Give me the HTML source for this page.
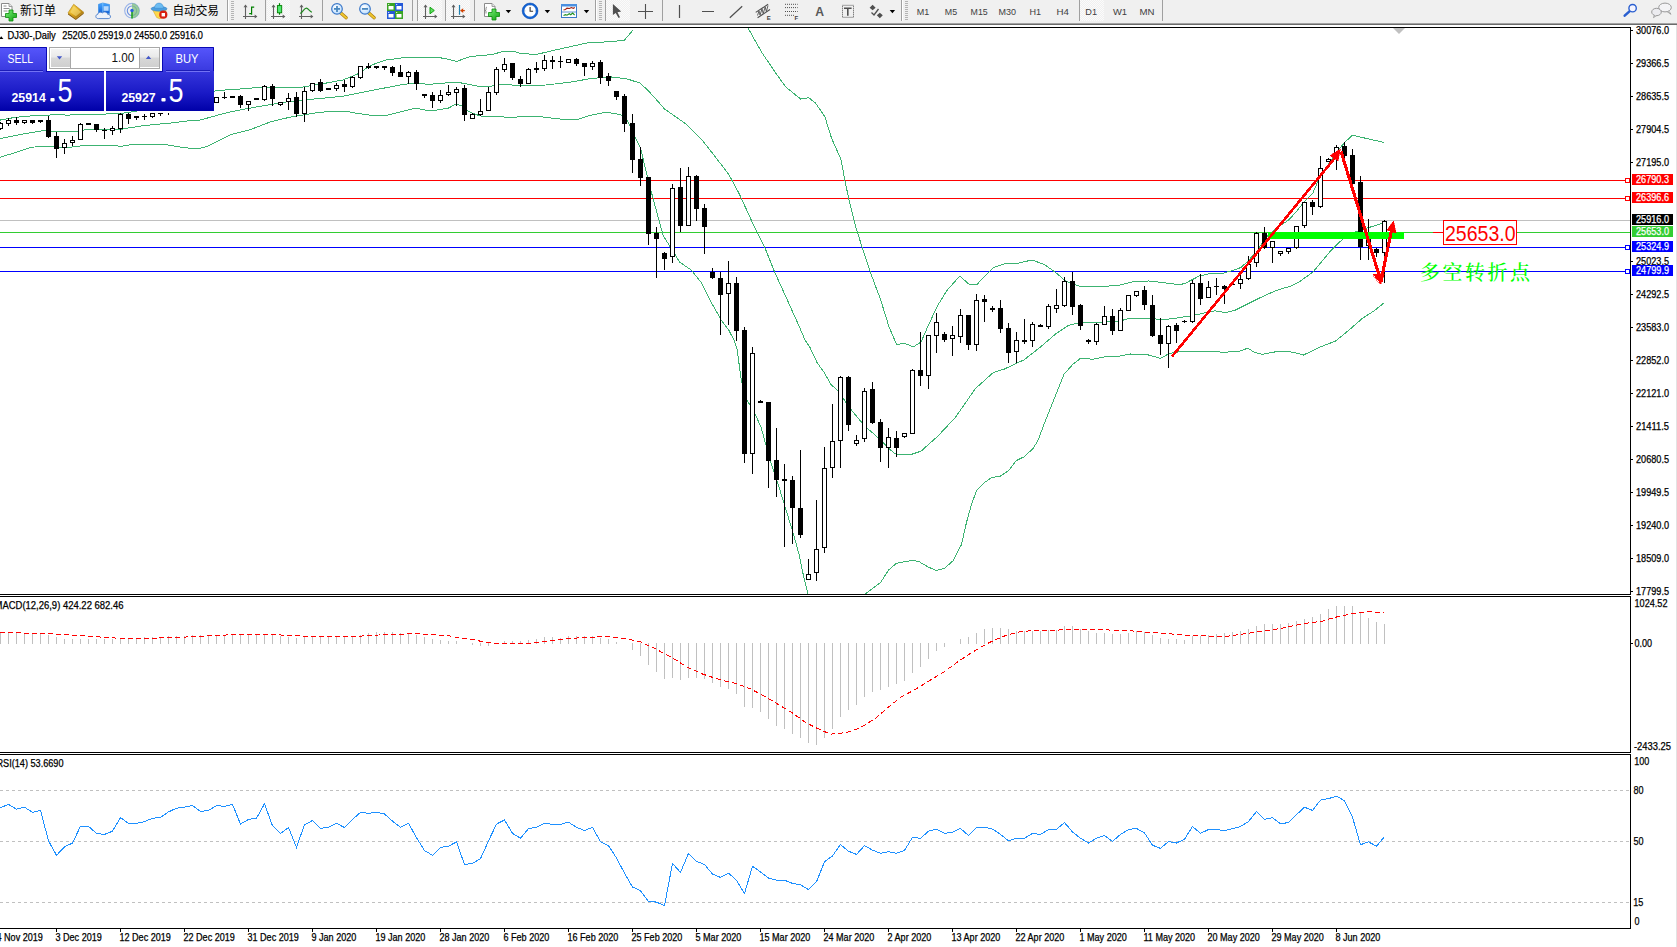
<!DOCTYPE html>
<html><head><meta charset="utf-8"><title>DJ30-,Daily</title>
<style>
html,body{margin:0;padding:0;background:#fff;}
body{width:1677px;height:947px;position:relative;overflow:hidden;font-family:"Liberation Sans","Noto Sans CJK SC",sans-serif;}
#tb{position:absolute;left:0;top:0;width:1677px;height:23px;background:#f0f0f0;}
#tbb{position:absolute;left:0;top:23px;width:1677px;height:2px;background:linear-gradient(#a3a3a3 50%,#6b6b6b 50%);}
#rb{position:absolute;left:1676px;top:25px;width:1px;height:922px;background:#e3e3e3;}
</style></head><body>
<div id="tb"></div><div id="tbb"></div><div id="rb"></div>
<svg width="1677" height="947" viewBox="0 0 1677 947" style="position:absolute;left:0;top:0" shape-rendering="crispEdges">
<defs><clipPath id="cm"><rect x="0" y="28" width="1630" height="566"/></clipPath></defs>
<g fill="#000">
<rect x="0" y="27" width="1631" height="1"/>
<rect x="0" y="594" width="1631" height="1"/>
<rect x="0" y="596" width="1631" height="1"/>
<rect x="0" y="752" width="1631" height="1"/>
<rect x="0" y="754" width="1631" height="1"/>
<rect x="0" y="928" width="1631" height="1"/>
<rect x="1630" y="27" width="1" height="568"/><rect x="1630" y="596" width="1" height="157"/><rect x="1630" y="754" width="1" height="175"/>
</g>
<rect x="0" y="180" width="1630" height="1" fill="#ff0000"/>
<rect x="0" y="198" width="1630" height="1" fill="#ff0000"/>
<rect x="0" y="220" width="1630" height="1" fill="#c0c0c0"/>
<rect x="0" y="232" width="1630" height="1" fill="#32cd32"/>
<rect x="0" y="247" width="1630" height="1" fill="#0000ff"/>
<rect x="0" y="271" width="1630" height="1" fill="#0000ff"/>
<g clip-path="url(#cm)" fill="none" stroke="#3cb371" stroke-width="1">
<polyline points="0.0,120.1 14.3,117.5 35.8,115.4 57.2,114.8 68.7,115.1 77.0,114.3 100.0,114.1 118.7,113.8 135.0,111.5 150.0,108.5 190.0,98.0 216.0,90.8 217.0,90.5 236.0,89.3 257.0,87.6 280.0,87.9 300.0,87.6 321.6,83.9 343.0,80.0 357.0,74.3 371.7,65.0 386.0,60.0 404.6,57.6 423.0,57.2 437.0,57.2 448.6,59.3 456.5,61.5 470.0,56.5 491.5,54.6 504.4,51.2 514.4,51.5 520.0,53.2 536.0,54.6 548.8,51.5 563.0,48.3 588.8,42.6 611.7,41.7 624.6,40.0 633.0,30.0"/>
<polyline points="748.0,28.0 761.5,52.0 775.0,72.0 785.8,87.0 800.6,99.0 808.7,97.7 815.4,103.0 824.8,116.5 831.5,138.0 841.0,159.6 845.0,181.0 849.0,200.0 855.8,227.0 862.5,248.5 869.9,271.0 876.2,288.0 880.0,297.7 888.9,326.5 896.6,344.7 904.4,343.2 913.3,346.9 921.0,342.0 928.8,324.3 937.7,305.5 946.5,291.0 959.8,276.0 968.7,284.0 976.5,285.0 984.2,276.6 993.1,267.8 1004.2,264.0 1017.5,263.3 1031.9,260.0 1044.1,264.4 1055.2,272.2 1066.3,281.5 1079.6,286.2 1101.8,286.6 1120.0,285.0 1135.2,281.3 1149.0,281.0 1161.2,282.4 1176.6,284.4 1184.2,283.9 1191.9,279.8 1199.5,275.9 1210.2,273.6 1222.5,273.3 1230.1,271.3 1240.9,267.5 1248.5,260.6 1256.2,251.4 1262.3,243.0 1268.4,234.6 1280.5,225.5 1288.6,220.1 1296.7,211.2 1303.9,202.2 1312.8,193.2 1318.2,180.6 1323.6,171.7 1330.8,160.9 1338.0,150.1 1345.1,142.1 1352.3,135.2 1366.7,138.5 1383.7,142.4"/>
<polyline points="0.0,138.6 21.5,134.3 47.2,130.0 52.9,131.5 77.3,131.5 85.8,129.6 100.1,129.3 118.7,130.0 124.5,128.6 143.0,125.7 171.7,122.9 190.0,120.6 200.0,120.1 228.6,112.2 257.0,106.8 286.0,102.0 314.5,99.0 343.0,96.2 371.7,90.5 400.0,85.0 414.6,83.0 428.6,84.4 451.5,82.5 461.5,83.0 477.0,86.0 488.7,86.5 501.5,84.4 520.0,85.5 546.0,85.0 570.0,82.2 591.7,78.4 611.7,77.0 627.4,79.0 640.3,83.2 649.0,91.5 660.0,103.7 664.5,108.9 686.0,124.0 702.5,140.5 716.4,158.3 729.0,174.8 739.2,193.8 752.0,221.6 764.6,247.0 774.7,272.3 787.4,300.2 798.8,325.5 805.0,340.0 809.8,347.2 817.0,362.4 824.0,372.3 831.3,384.9 838.5,391.2 845.7,402.0 852.8,411.8 861.8,422.6 869.0,429.8 878.0,437.6 888.7,448.3 895.0,453.7 900.0,454.6 911.0,454.5 921.0,451.2 937.7,436.3 955.4,417.4 975.4,388.6 993.1,372.7 1004.2,369.1 1024.1,359.8 1039.7,347.6 1055.2,334.3 1068.5,325.4 1079.6,322.8 1101.8,322.1 1120.0,321.0 1130.6,318.0 1150.5,318.0 1161.2,320.0 1176.6,318.0 1191.9,315.7 1207.2,312.4 1214.8,310.8 1225.6,312.7 1234.7,310.4 1245.5,305.0 1260.8,297.4 1276.1,290.5 1291.4,285.9 1300.0,281.3 1312.8,272.2 1321.8,261.4 1330.8,250.7 1339.8,241.7 1346.9,236.3 1355.9,231.8 1366.7,228.2 1375.7,225.4 1383.7,222.8"/>
<polyline points="0.0,157.2 14.3,152.9 31.5,147.2 47.2,146.2 67.2,147.6 85.8,145.3 115.9,145.3 120.2,146.5 133.0,144.3 164.5,144.3 178.8,146.9 190.3,148.3 200.0,148.3 207.0,146.6 231.5,134.4 250.0,129.7 271.5,121.5 293.0,116.5 318.7,112.5 336.0,111.0 347.4,111.5 357.4,113.4 371.7,115.4 386.0,115.4 400.0,112.0 416.0,108.0 424.6,110.0 433.0,110.8 448.6,108.0 455.8,104.0 461.5,105.8 468.6,111.5 480.0,116.0 500.0,116.5 508.7,117.5 526.0,116.5 538.7,116.5 563.0,119.4 577.4,119.4 591.7,115.0 606.0,112.3 620.0,114.4 627.4,120.8 634.6,136.0 640.3,147.3 644.6,165.0 651.8,193.8 663.2,235.6 673.4,252.0 679.7,262.2 691.0,269.8 701.2,282.5 711.4,302.7 721.5,320.5 729.0,330.6 734.0,340.0 737.0,349.0 741.5,381.3 747.0,400.0 755.0,413.6 761.3,428.0 764.9,441.2 772.0,466.3 779.2,487.8 786.4,511.2 793.6,534.5 799.0,554.2 803.5,575.8 808.0,594.0"/>
<polyline points="865.0,594.0 880.3,582.8 888.7,570.0 896.3,563.3 912.4,560.3 919.0,561.6 927.6,566.7 936.0,570.4 944.5,568.4 953.0,560.8 961.4,544.7 966.4,522.8 971.5,504.2 976.6,490.7 985.0,482.2 991.8,477.5 1000.2,476.3 1008.7,470.4 1016.3,460.6 1023.9,456.9 1033.2,448.4 1038.2,440.0 1044.1,424.1 1053.0,401.9 1064.0,374.2 1073.0,364.2 1080.7,358.2 1092.9,359.3 1106.2,356.5 1120.0,356.0 1130.6,354.0 1145.9,354.3 1160.5,358.3 1168.9,353.7 1182.7,351.0 1191.9,351.7 1207.2,351.0 1222.5,352.2 1237.8,351.7 1247.8,348.2 1254.6,352.5 1262.3,354.3 1276.1,351.7 1289.9,351.7 1300.0,354.0 1303.5,355.0 1320.4,346.9 1335.6,341.0 1349.1,330.0 1362.6,318.2 1374.5,310.6 1383.8,303.0"/>
</g>
<g clip-path="url(#cm)">
<path fill="#000" d="M0 122v8h1v-8zM8 118v8h1v-8zM16 117v8h1v-8zM24 120v4h1v-4zM32 120v4h1v-4zM40 120v3h1v-3zM48 116v22h1v-22zM56 132v26h1v-26zM64 139v15h1v-15zM72 136v10h1v-10zM80 123v17h1v-17zM88 123v2h1v-2zM96 124v8h1v-8zM104 128v11h1v-11zM112 126v9h1v-9zM120 113v20h1v-20zM128 113v11h1v-11zM136 116v4h1v-4zM144 114v6h1v-6zM152 113v5h1v-5zM160 113v3h1v-3zM168 113v2h1v-2zM216 97v6h1v-6zM224 92v7h1v-7zM232 96v2h1v-2zM240 95v13h1v-13zM248 101v10h1v-10zM256 98v2h1v-2zM264 85v16h1v-16zM272 84v22h1v-22zM280 102v4h1v-4zM288 93v17h1v-17zM296 92v25h1v-25zM304 87v35h1v-35zM312 83v9h1v-9zM320 79v13h1v-13zM328 88v2h1v-2zM336 83v8h1v-8zM344 80v12h1v-12zM352 76v12h1v-12zM360 66v13h1v-13zM368 63v6h1v-6zM376 66v3h1v-3zM384 66v4h1v-4zM392 66v10h1v-10zM400 65v12h1v-12zM408 71v13h1v-13zM416 70v20h1v-20zM424 94v4h1v-4zM432 92v16h1v-16zM440 90v13h1v-13zM448 85v11h1v-11zM456 87v19h1v-19zM464 85v36h1v-36zM472 113v6h1v-6zM480 99v17h1v-17zM488 87v24h1v-24zM496 67v28h1v-28zM504 58v14h1v-14zM512 63v17h1v-17zM520 76v11h1v-11zM528 68v16h1v-16zM536 62v11h1v-11zM544 55v16h1v-16zM552 56v13h1v-13zM560 56v12h1v-12zM568 59v4h1v-4zM576 58v8h1v-8zM584 63v13h1v-13zM592 61v9h1v-9zM600 60v24h1v-24zM608 73v13h1v-13zM616 91v9h1v-9zM624 94v38h1v-38zM632 114v59h1v-59zM640 147v39h1v-39zM648 177v68h1v-68zM656 227v51h1v-51zM664 252v18h1v-18zM672 184v79h1v-79zM680 168v64h1v-64zM688 167v59h1v-59zM696 175v46h1v-46zM704 204v50h1v-50zM712 268v11h1v-11zM720 272v63h1v-63zM728 261v64h1v-64zM736 277v64h1v-64zM744 327v136h1v-136zM752 347v127h1v-127zM760 400v3h1v-3zM768 402v86h1v-86zM776 428v69h1v-69zM784 464v83h1v-83zM792 476v68h1v-68zM800 450v88h1v-88zM808 559v21h1v-21zM816 500v81h1v-81zM824 447v106h1v-106zM832 404v74h1v-74zM840 376v92h1v-92zM848 376v55h1v-55zM856 435v11h1v-11zM864 388v54h1v-54zM872 382v42h1v-42zM880 419v43h1v-43zM888 428v40h1v-40zM896 431v26h1v-26zM904 433v5h1v-5zM912 369v65h1v-65zM920 332v54h1v-54zM928 335v54h1v-54zM936 313v40h1v-40zM944 332v10h1v-10zM952 326v30h1v-30zM960 309v34h1v-34zM968 315v35h1v-35zM976 294v57h1v-57zM984 295v27h1v-27zM992 306v6h1v-6zM1000 300v33h1v-33zM1008 323v40h1v-40zM1016 332v31h1v-31zM1024 319v25h1v-25zM1032 322v25h1v-25zM1040 324v3h1v-3zM1048 304v25h1v-25zM1056 289v24h1v-24zM1064 277v30h1v-30zM1072 272v43h1v-43zM1080 304v26h1v-26zM1088 339v5h1v-5zM1096 323v22h1v-22zM1104 306v19h1v-19zM1112 309v26h1v-26zM1120 308v23h1v-23zM1128 295v16h1v-16zM1136 291v6h1v-6zM1144 286v24h1v-24zM1152 295v42h1v-42zM1160 318v37h1v-37zM1168 325v43h1v-43zM1176 323v20h1v-20zM1184 320v3h1v-3zM1192 280v43h1v-43zM1200 274v31h1v-31zM1208 281v17h1v-17zM1216 278v17h1v-17zM1224 285v19h1v-19zM1232 284v1h1v-1zM1240 275v14h1v-14zM1248 256v24h1v-24zM1256 232v35h1v-35zM1264 227v22h1v-22zM1272 241v22h1v-22zM1280 251v5h1v-5zM1288 248v6h1v-6zM1296 226v23h1v-23zM1304 202v26h1v-26zM1312 200v15h1v-15zM1320 156v52h1v-52zM1328 158v4h1v-4zM1336 145v25h1v-25zM1344 142v16h1v-16zM1352 149v35h1v-35zM1360 176v84h1v-84zM1368 219v41h1v-41zM1376 248v9h1v-9zM1384 220v63h1v-63z"/>
<path fill="#000" d="M-2 123h5v6h-5zM6 120h5v4h-5zM14 120h5v3h-5zM22 120h5v3h-5zM30 120h5v3h-5zM38 120h5v2h-5zM46 120h5v17h-5zM54 136h5v13h-5zM62 143h5v5h-5zM70 140h5v3h-5zM78 124h5v16h-5zM86 123h5v2h-5zM94 124h5v6h-5zM102 130h5v1h-5zM110 128h5v3h-5zM118 114h5v15h-5zM126 114h5v5h-5zM134 116h5v2h-5zM142 116h5v1h-5zM150 113h5v4h-5zM158 113h5v1h-5zM214 97h5v6h-5zM222 97h5v1h-5zM230 96h5v2h-5zM238 96h5v9h-5zM246 101h5v4h-5zM254 98h5v2h-5zM262 86h5v14h-5zM270 86h5v13h-5zM278 102h5v3h-5zM286 98h5v4h-5zM294 97h5v17h-5zM302 91h5v23h-5zM310 83h5v8h-5zM318 82h5v9h-5zM326 88h5v2h-5zM334 85h5v4h-5zM342 84h5v3h-5zM350 77h5v10h-5zM358 66h5v12h-5zM366 66h5v2h-5zM374 66h5v2h-5zM382 66h5v2h-5zM390 67h5v6h-5zM398 72h5v5h-5zM406 72h5v5h-5zM414 72h5v12h-5zM422 94h5v2h-5zM430 95h5v6h-5zM438 95h5v6h-5zM446 92h5v3h-5zM454 89h5v4h-5zM462 88h5v27h-5zM470 114h5v5h-5zM478 111h5v4h-5zM486 92h5v19h-5zM494 69h5v24h-5zM502 64h5v6h-5zM510 63h5v15h-5zM518 79h5v5h-5zM526 69h5v15h-5zM534 68h5v2h-5zM542 60h5v9h-5zM550 60h5v2h-5zM558 61h5v1h-5zM566 59h5v4h-5zM574 59h5v5h-5zM582 63h5v4h-5zM590 63h5v4h-5zM598 62h5v16h-5zM606 76h5v5h-5zM614 91h5v6h-5zM622 96h5v28h-5zM630 123h5v37h-5zM638 159h5v19h-5zM646 177h5v57h-5zM654 233h5v6h-5zM662 253h5v6h-5zM670 188h5v69h-5zM678 187h5v39h-5zM686 176h5v50h-5zM694 176h5v33h-5zM702 208h5v19h-5zM710 272h5v6h-5zM718 278h5v17h-5zM726 283h5v11h-5zM734 283h5v48h-5zM742 330h5v124h-5zM750 353h5v101h-5zM758 401h5v2h-5zM766 402h5v59h-5zM774 460h5v20h-5zM782 479h5v2h-5zM790 480h5v28h-5zM798 508h5v27h-5zM806 574h5v6h-5zM814 549h5v24h-5zM822 468h5v80h-5zM830 441h5v27h-5zM838 377h5v64h-5zM846 377h5v48h-5zM854 440h5v4h-5zM862 391h5v48h-5zM870 389h5v34h-5zM878 422h5v26h-5zM886 437h5v11h-5zM894 438h5v10h-5zM902 433h5v4h-5zM910 370h5v64h-5zM918 370h5v6h-5zM926 335h5v41h-5zM934 322h5v14h-5zM942 334h5v6h-5zM950 335h5v4h-5zM958 315h5v22h-5zM966 315h5v30h-5zM974 300h5v45h-5zM982 299h5v3h-5zM990 308h5v2h-5zM998 308h5v21h-5zM1006 328h5v25h-5zM1014 340h5v12h-5zM1022 340h5v2h-5zM1030 324h5v17h-5zM1038 325h5v2h-5zM1046 306h5v21h-5zM1054 305h5v4h-5zM1062 281h5v25h-5zM1070 281h5v26h-5zM1078 305h5v21h-5zM1086 340h5v2h-5zM1094 324h5v18h-5zM1102 316h5v9h-5zM1110 316h5v15h-5zM1118 310h5v21h-5zM1126 295h5v16h-5zM1134 291h5v5h-5zM1142 290h5v15h-5zM1150 305h5v31h-5zM1158 335h5v9h-5zM1166 326h5v18h-5zM1174 325h5v6h-5zM1182 321h5v1h-5zM1190 283h5v39h-5zM1198 283h5v16h-5zM1206 287h5v11h-5zM1214 286h5v1h-5zM1222 286h5v3h-5zM1230 284h5v1h-5zM1238 279h5v5h-5zM1246 264h5v15h-5zM1254 233h5v30h-5zM1262 233h5v15h-5zM1270 241h5v7h-5zM1278 251h5v3h-5zM1286 248h5v4h-5zM1294 226h5v22h-5zM1302 202h5v24h-5zM1310 202h5v5h-5zM1318 168h5v39h-5zM1326 159h5v3h-5zM1334 147h5v8h-5zM1342 146h5v10h-5zM1350 155h5v29h-5zM1358 182h5v65h-5zM1366 233h5v13h-5zM1374 249h5v4h-5zM1382 221h5v32h-5z"/>
<path fill="#fff" d="M-1 124h3v4h-3zM7 121h3v2h-3zM23 121h3v1h-3zM63 144h3v3h-3zM71 141h3v1h-3zM79 125h3v14h-3zM111 129h3v1h-3zM119 115h3v13h-3zM151 114h3v2h-3zM215 98h3v4h-3zM247 102h3v2h-3zM263 87h3v12h-3zM279 103h3v1h-3zM287 99h3v2h-3zM303 92h3v21h-3zM311 84h3v6h-3zM335 86h3v2h-3zM351 78h3v8h-3zM359 67h3v10h-3zM407 73h3v3h-3zM439 96h3v4h-3zM447 93h3v1h-3zM455 90h3v2h-3zM471 115h3v3h-3zM479 112h3v2h-3zM487 93h3v17h-3zM495 70h3v22h-3zM503 65h3v4h-3zM527 70h3v13h-3zM543 61h3v7h-3zM567 60h3v2h-3zM591 64h3v2h-3zM671 189h3v67h-3zM687 177h3v48h-3zM727 284h3v9h-3zM751 354h3v99h-3zM807 575h3v4h-3zM815 550h3v22h-3zM823 469h3v78h-3zM831 442h3v25h-3zM839 378h3v62h-3zM855 441h3v2h-3zM863 392h3v46h-3zM887 438h3v9h-3zM903 434h3v2h-3zM911 371h3v62h-3zM927 336h3v39h-3zM935 323h3v12h-3zM951 336h3v2h-3zM959 316h3v20h-3zM975 301h3v43h-3zM1015 341h3v10h-3zM1031 325h3v15h-3zM1047 307h3v19h-3zM1055 306h3v2h-3zM1063 282h3v23h-3zM1095 325h3v16h-3zM1103 317h3v7h-3zM1119 311h3v19h-3zM1127 296h3v14h-3zM1135 292h3v3h-3zM1167 327h3v16h-3zM1191 284h3v37h-3zM1207 288h3v9h-3zM1239 280h3v3h-3zM1247 265h3v13h-3zM1255 234h3v28h-3zM1271 242h3v5h-3zM1279 252h3v1h-3zM1287 249h3v2h-3zM1295 227h3v20h-3zM1303 203h3v22h-3zM1319 169h3v37h-3zM1327 160h3v1h-3zM1335 148h3v6h-3zM1367 234h3v11h-3zM1383 222h3v30h-3z"/>
</g>
<rect x="1625.5" y="178.5" width="4" height="4" fill="#fff" stroke="#ff0000" stroke-width="1"/>
<rect x="1625.5" y="196.5" width="4" height="4" fill="#fff" stroke="#ff0000" stroke-width="1"/>
<rect x="1625.5" y="245.5" width="4" height="4" fill="#fff" stroke="#0000ff" stroke-width="1"/>
<rect x="1625.5" y="269.5" width="4" height="4" fill="#fff" stroke="#0000ff" stroke-width="1"/>
<rect x="1268" y="232" width="136" height="7" fill="#00ff00"/>
<rect x="1433" y="232" width="10" height="1" fill="#ff0000"/>
<rect x="1443.5" y="220.5" width="73" height="24" fill="#fff" stroke="#ff0000" stroke-width="1"/>
<text x="1445" y="240.5" font-family="Liberation Sans, sans-serif" font-size="21.5" fill="#ff0000" textLength="70.5" lengthAdjust="spacingAndGlyphs" shape-rendering="auto">25653.0</text>
<text x="1420" y="280" font-family="Liberation Serif, Noto Serif CJK SC, serif" font-size="20" font-weight="500" fill="#00ff00" textLength="110" lengthAdjust="spacing">多空转折点</text>
<g shape-rendering="crispEdges" stroke="#ff0000" fill="#ff0000">
<line x1="1172" y1="356.5" x2="1336.5" y2="156" stroke-width="2.6"/>
<polygon points="1340.5,149 1330,155.5 1338,161" stroke-width="0.5"/>
<line x1="1341" y1="151.5" x2="1379" y2="275" stroke-width="3.1"/>
<polygon points="1380.5,284 1373,274.5 1384,273.5" stroke-width="0.5"/>
<line x1="1381" y1="281.5" x2="1391.5" y2="230" stroke-width="3.1"/>
<polygon points="1393.6,220.8 1387,230 1396.2,233.2" stroke-width="0.5"/>
</g>
<polygon points="1393,28 1405,28 1399,34" fill="#c0c0c0" shape-rendering="auto"/>
<g font-family="Liberation Sans, sans-serif" font-size="10" fill="#000">
<rect x="1631" y="30" width="2" height="1"/><text x="1636" y="34" font-size="10.3" textLength="33.0" lengthAdjust="spacingAndGlyphs" stroke="#000" stroke-width="0.25">30076.0</text>
<rect x="1631" y="63" width="2" height="1"/><text x="1636" y="67" font-size="10.3" textLength="33.0" lengthAdjust="spacingAndGlyphs" stroke="#000" stroke-width="0.25">29366.5</text>
<rect x="1631" y="96" width="2" height="1"/><text x="1636" y="100" font-size="10.3" textLength="33.0" lengthAdjust="spacingAndGlyphs" stroke="#000" stroke-width="0.25">28635.5</text>
<rect x="1631" y="129" width="2" height="1"/><text x="1636" y="133" font-size="10.3" textLength="33.0" lengthAdjust="spacingAndGlyphs" stroke="#000" stroke-width="0.25">27904.5</text>
<rect x="1631" y="162" width="2" height="1"/><text x="1636" y="166" font-size="10.3" textLength="33.0" lengthAdjust="spacingAndGlyphs" stroke="#000" stroke-width="0.25">27195.0</text>
<rect x="1631" y="261" width="2" height="1"/><text x="1636" y="265" font-size="10.3" textLength="33.0" lengthAdjust="spacingAndGlyphs" stroke="#000" stroke-width="0.25">25023.5</text>
<rect x="1631" y="294" width="2" height="1"/><text x="1636" y="298" font-size="10.3" textLength="33.0" lengthAdjust="spacingAndGlyphs" stroke="#000" stroke-width="0.25">24292.5</text>
<rect x="1631" y="327" width="2" height="1"/><text x="1636" y="331" font-size="10.3" textLength="33.0" lengthAdjust="spacingAndGlyphs" stroke="#000" stroke-width="0.25">23583.0</text>
<rect x="1631" y="360" width="2" height="1"/><text x="1636" y="364" font-size="10.3" textLength="33.0" lengthAdjust="spacingAndGlyphs" stroke="#000" stroke-width="0.25">22852.0</text>
<rect x="1631" y="393" width="2" height="1"/><text x="1636" y="397" font-size="10.3" textLength="33.0" lengthAdjust="spacingAndGlyphs" stroke="#000" stroke-width="0.25">22121.0</text>
<rect x="1631" y="426" width="2" height="1"/><text x="1636" y="430" font-size="10.3" textLength="33.0" lengthAdjust="spacingAndGlyphs" stroke="#000" stroke-width="0.25">21411.5</text>
<rect x="1631" y="459" width="2" height="1"/><text x="1636" y="463" font-size="10.3" textLength="33.0" lengthAdjust="spacingAndGlyphs" stroke="#000" stroke-width="0.25">20680.5</text>
<rect x="1631" y="492" width="2" height="1"/><text x="1636" y="496" font-size="10.3" textLength="33.0" lengthAdjust="spacingAndGlyphs" stroke="#000" stroke-width="0.25">19949.5</text>
<rect x="1631" y="525" width="2" height="1"/><text x="1636" y="529" font-size="10.3" textLength="33.0" lengthAdjust="spacingAndGlyphs" stroke="#000" stroke-width="0.25">19240.0</text>
<rect x="1631" y="558" width="2" height="1"/><text x="1636" y="562" font-size="10.3" textLength="33.0" lengthAdjust="spacingAndGlyphs" stroke="#000" stroke-width="0.25">18509.0</text>
<rect x="1631" y="591" width="2" height="1"/><text x="1636" y="595" font-size="10.3" textLength="33.0" lengthAdjust="spacingAndGlyphs" stroke="#000" stroke-width="0.25">17799.5</text>
<rect x="1632" y="174" width="41" height="11" fill="#ff0000"/><text x="1636" y="183.3" font-size="10.3" textLength="33.0" lengthAdjust="spacingAndGlyphs" fill="#fff" stroke="#fff" stroke-width="0.25">26790.3</text>
<rect x="1632" y="192" width="41" height="11" fill="#ff0000"/><text x="1636" y="201.3" font-size="10.3" textLength="33.0" lengthAdjust="spacingAndGlyphs" fill="#fff" stroke="#fff" stroke-width="0.25">26396.6</text>
<rect x="1632" y="214" width="41" height="11" fill="#000000"/><text x="1636" y="223.3" font-size="10.3" textLength="33.0" lengthAdjust="spacingAndGlyphs" fill="#fff" stroke="#fff" stroke-width="0.25">25916.0</text>
<rect x="1632" y="226" width="41" height="11" fill="#32cd32"/><text x="1636" y="235.3" font-size="10.3" textLength="33.0" lengthAdjust="spacingAndGlyphs" fill="#fff" stroke="#fff" stroke-width="0.25">25653.0</text>
<rect x="1632" y="241" width="41" height="11" fill="#0000ff"/><text x="1636" y="250.3" font-size="10.3" textLength="33.0" lengthAdjust="spacingAndGlyphs" fill="#fff" stroke="#fff" stroke-width="0.25">25324.9</text>
<rect x="1632" y="265" width="41" height="11" fill="#0000ff"/><text x="1636" y="274.3" font-size="10.3" textLength="33.0" lengthAdjust="spacingAndGlyphs" fill="#fff" stroke="#fff" stroke-width="0.25">24799.9</text>
<text x="1634.5" y="607" font-size="10.3" textLength="33.0" lengthAdjust="spacingAndGlyphs" stroke="#000" stroke-width="0.25">1024.52</text>
<rect x="1631" y="643" width="2" height="1"/><text x="1634.5" y="647" font-size="10.3" textLength="17.6" lengthAdjust="spacingAndGlyphs" stroke="#000" stroke-width="0.25">0.00</text>
<text x="1634" y="750" font-size="10.3" textLength="37.0" lengthAdjust="spacingAndGlyphs" stroke="#000" stroke-width="0.25">-2433.25</text>
<text x="1634.3" y="765" font-size="10.3" textLength="15.1" lengthAdjust="spacingAndGlyphs" stroke="#000" stroke-width="0.25">100</text>
<text x="1633.5" y="794" font-size="10.3" textLength="10.1" lengthAdjust="spacingAndGlyphs" stroke="#000" stroke-width="0.25">80</text>
<text x="1633.5" y="845" font-size="10.3" textLength="10.1" lengthAdjust="spacingAndGlyphs" stroke="#000" stroke-width="0.25">50</text>
<text x="1633.3" y="906" font-size="10.3" textLength="10.1" lengthAdjust="spacingAndGlyphs" stroke="#000" stroke-width="0.25">15</text>
<text x="1634.5" y="925" font-size="10.3" textLength="5.0" lengthAdjust="spacingAndGlyphs" stroke="#000" stroke-width="0.25">0</text>
</g>
<path fill="#c0c0c0" d="M0 633v11h1v-11zM8 633v11h1v-11zM16 633v11h1v-11zM24 633v11h1v-11zM32 633v11h1v-11zM40 633v11h1v-11zM48 635v9h1v-9zM56 637v7h1v-7zM64 639v5h1v-5zM72 639v5h1v-5zM80 639v5h1v-5zM88 639v5h1v-5zM96 639v5h1v-5zM104 639v5h1v-5zM112 639v5h1v-5zM120 638v6h1v-6zM128 638v6h1v-6zM136 638v6h1v-6zM144 637v7h1v-7zM152 637v7h1v-7zM160 637v7h1v-7zM168 636v8h1v-8zM176 636v8h1v-8zM184 636v8h1v-8zM192 635v9h1v-9zM200 635v9h1v-9zM208 635v9h1v-9zM216 635v9h1v-9zM224 635v9h1v-9zM232 634v10h1v-10zM240 635v9h1v-9zM248 635v9h1v-9zM256 635v9h1v-9zM264 635v9h1v-9zM272 635v9h1v-9zM280 636v8h1v-8zM288 637v7h1v-7zM296 638v6h1v-6zM304 637v7h1v-7zM312 636v8h1v-8zM320 636v8h1v-8zM328 636v8h1v-8zM336 636v8h1v-8zM344 636v8h1v-8zM352 636v8h1v-8zM360 635v9h1v-9zM368 633v11h1v-11zM376 632v12h1v-12zM384 632v12h1v-12zM392 632v12h1v-12zM400 633v11h1v-11zM408 633v11h1v-11zM416 635v9h1v-9zM424 637v7h1v-7zM432 639v5h1v-5zM440 640v4h1v-4zM448 641v3h1v-3zM456 641v3h1v-3zM472 643v2h1v-2zM480 643v3h1v-3zM488 643v3h1v-3zM504 641v3h1v-3zM512 641v3h1v-3zM520 641v3h1v-3zM528 640v4h1v-4zM536 639v5h1v-5zM544 637v7h1v-7zM552 637v7h1v-7zM560 638v6h1v-6zM568 636v8h1v-8zM576 636v8h1v-8zM584 636v8h1v-8zM592 636v8h1v-8zM600 638v6h1v-6zM608 639v5h1v-5zM616 642v2h1v-2zM632 643v7h1v-7zM640 643v13h1v-13zM648 643v22h1v-22zM656 643v29h1v-29zM664 643v36h1v-36zM672 643v35h1v-35zM680 643v37h1v-37zM688 643v35h1v-35zM696 643v35h1v-35zM704 643v36h1v-36zM712 643v40h1v-40zM720 643v44h1v-44zM728 643v46h1v-46zM736 643v51h1v-51zM744 643v64h1v-64zM752 643v65h1v-65zM760 643v69h1v-69zM768 643v76h1v-76zM776 643v83h1v-83zM784 643v86h1v-86zM792 643v91h1v-91zM800 643v95h1v-95zM808 643v100h1v-100zM816 643v102h1v-102zM824 643v95h1v-95zM832 643v86h1v-86zM840 643v74h1v-74zM848 643v67h1v-67zM856 643v62h1v-62zM864 643v54h1v-54zM872 643v49h1v-49zM880 643v47h1v-47zM888 643v44h1v-44zM896 643v41h1v-41zM904 643v38h1v-38zM912 643v30h1v-30zM920 643v24h1v-24zM928 643v16h1v-16zM936 643v8h1v-8zM944 643v4h1v-4zM960 639v5h1v-5zM968 637v7h1v-7zM976 633v11h1v-11zM984 629v15h1v-15zM992 628v16h1v-16zM1000 628v16h1v-16zM1008 629v15h1v-15zM1016 631v13h1v-13zM1024 631v13h1v-13zM1032 631v13h1v-13zM1040 631v13h1v-13zM1048 630v14h1v-14zM1056 630v14h1v-14zM1064 626v18h1v-18zM1072 626v18h1v-18zM1080 629v15h1v-15zM1088 631v13h1v-13zM1096 633v11h1v-11zM1104 633v11h1v-11zM1112 634v10h1v-10zM1120 634v10h1v-10zM1128 633v11h1v-11zM1136 631v13h1v-13zM1144 632v12h1v-12zM1152 635v9h1v-9zM1160 638v6h1v-6zM1168 639v5h1v-5zM1176 639v5h1v-5zM1184 640v4h1v-4zM1192 636v8h1v-8zM1200 636v8h1v-8zM1208 635v9h1v-9zM1216 634v10h1v-10zM1224 633v11h1v-11zM1232 632v12h1v-12zM1240 631v13h1v-13zM1248 629v15h1v-15zM1256 626v18h1v-18zM1264 624v20h1v-20zM1272 624v20h1v-20zM1280 624v20h1v-20zM1288 623v21h1v-21zM1296 621v23h1v-23zM1304 619v25h1v-25zM1312 617v27h1v-27zM1320 614v30h1v-30zM1328 609v35h1v-35zM1336 606v38h1v-38zM1344 606v38h1v-38zM1352 606v38h1v-38zM1360 612v32h1v-32zM1368 618v26h1v-26zM1376 622v22h1v-22zM1384 624v20h1v-20z"/>
<polyline fill="none" stroke="#ff0000" stroke-width="1" stroke-dasharray="5 3" points="0.0,632.5 17.3,632.5 22.5,633.3 51.9,633.3 55.3,634.5 65.7,634.5 72.6,635.6 83.0,635.6 90.0,636.6 107.2,637.3 117.6,638.2 155.6,638.2 166.0,637.3 183.3,637.3 190.2,636.6 202.3,636.3 207.5,635.2 224.8,635.2 231.7,634.2 273.2,634.5 290.0,635.6 300.8,635.6 304.2,636.4 357.8,636.4 366.5,635.6 376.8,635.2 383.8,634.4 404.5,634.2 408.0,633.3 420.0,633.3 423.5,634.4 435.6,634.4 439.0,635.6 449.5,635.9 456.4,637.3 461.6,638.2 473.7,639.4 480.6,641.3 487.5,642.5 497.9,643.3 529.0,643.3 537.7,642.5 544.6,641.3 556.7,639.9 563.6,639.0 575.0,638.1 592.6,637.3 605.0,636.1 625.0,638.6 640.0,641.6 655.0,648.6 672.7,658.1 687.7,667.4 702.7,674.1 720.3,679.9 735.3,683.2 750.3,688.7 767.9,698.2 780.4,705.7 792.9,713.2 805.4,722.5 818.0,728.7 830.5,734.2 840.5,733.2 850.5,731.7 863.0,726.2 875.6,718.2 888.0,707.4 900.6,697.4 915.6,689.2 930.7,679.9 943.2,672.4 958.2,661.6 970.7,653.1 977.5,649.3 985.0,644.8 995.0,639.8 1007.6,634.8 1020.0,631.8 1032.6,630.6 1057.7,630.1 1070.2,629.3 1105.2,629.3 1112.7,630.6 1130.3,630.6 1137.8,631.8 1155.3,632.6 1162.8,633.6 1177.9,634.3 1185.4,635.3 1202.9,635.6 1210.4,636.3 1228.0,636.1 1240.5,634.3 1253.0,632.6 1265.5,630.6 1283.0,628.1 1295.6,625.3 1308.1,623.0 1323.1,621.0 1330.6,618.5 1340.6,616.0 1350.7,614.0 1360.7,612.3 1369.5,611.5 1375.7,612.5 1384.0,612.5"/>
<line x1="0" y1="790.5" x2="1630" y2="790.5" stroke="#c0c0c0" stroke-width="1" stroke-dasharray="3 3"/>
<line x1="0" y1="841.5" x2="1630" y2="841.5" stroke="#c0c0c0" stroke-width="1" stroke-dasharray="3 3"/>
<line x1="0" y1="902.5" x2="1630" y2="902.5" stroke="#c0c0c0" stroke-width="1" stroke-dasharray="3 3"/>
<polyline fill="none" stroke="#1e90ff" stroke-width="1" points="0.5,807.6 8.5,804.4 16.5,809.1 24.5,807.2 32.5,812.3 40.5,810.4 48.5,840.9 56.5,855.3 64.5,846.9 72.5,843.0 80.5,826.3 88.5,826.3 96.5,833.4 104.5,834.4 112.5,831.2 120.5,817.7 128.5,823.3 136.5,823.3 144.5,821.6 152.5,818.3 160.5,817.3 168.5,811.9 176.5,808.2 184.5,807.2 192.5,805.5 200.5,811.5 208.5,810.4 216.5,805.5 224.5,806.5 232.5,804.4 240.5,824.1 248.5,819.4 256.5,818.3 264.5,803.7 272.5,825.8 280.5,833.4 288.5,827.6 296.5,847.3 304.5,824.8 312.5,820.5 320.5,828.4 328.5,827.3 336.5,823.3 344.5,827.6 352.5,819.4 360.5,812.3 368.5,813.4 376.5,812.3 384.5,814.0 392.5,821.1 400.5,827.3 408.5,823.3 416.5,837.7 424.5,850.5 432.5,855.3 440.5,847.3 448.5,846.2 456.5,841.9 464.5,864.5 472.5,863.4 480.5,858.7 488.5,840.9 496.5,824.1 504.5,820.0 512.5,833.4 520.5,838.3 528.5,828.6 536.5,827.3 544.5,823.3 552.5,824.3 560.5,824.3 568.5,822.2 576.5,827.3 584.5,830.6 592.5,827.3 600.5,841.9 608.5,845.6 616.5,858.0 624.5,873.1 632.5,887.0 640.5,890.7 648.5,901.4 656.5,902.1 664.5,905.7 672.5,863.4 680.5,872.4 688.5,853.3 696.5,861.3 704.5,864.5 712.5,874.1 720.5,877.4 728.5,873.1 736.5,880.2 744.5,893.5 752.5,866.2 760.5,872.0 768.5,878.0 776.5,880.2 784.5,880.2 792.5,883.4 800.5,884.9 808.5,889.6 816.5,881.7 824.5,861.7 832.5,855.9 840.5,844.5 848.5,851.2 856.5,854.4 864.5,845.6 872.5,850.1 880.5,853.3 888.5,851.6 896.5,853.3 904.5,850.5 912.5,837.2 920.5,838.3 928.5,831.2 936.5,829.1 944.5,833.4 952.5,832.3 960.5,828.4 968.5,835.5 976.5,827.6 984.5,827.3 992.5,829.1 1000.5,834.4 1008.5,840.9 1016.5,838.3 1024.5,838.3 1032.5,833.4 1040.5,834.4 1048.5,829.7 1056.5,829.3 1064.5,822.6 1072.5,831.9 1080.5,838.3 1088.5,843.0 1096.5,838.3 1104.5,835.5 1112.5,841.5 1120.5,834.4 1128.5,829.5 1136.5,828.4 1144.5,832.9 1152.5,845.2 1160.5,848.4 1168.5,841.5 1176.5,843.0 1184.5,839.2 1192.5,826.5 1200.5,833.4 1208.5,829.5 1216.5,829.5 1224.5,830.6 1232.5,828.6 1240.5,826.5 1248.5,821.6 1256.5,811.5 1264.5,819.4 1272.5,817.7 1280.5,823.7 1288.5,822.6 1296.5,814.7 1304.5,807.2 1312.5,810.4 1320.5,800.1 1328.5,798.6 1336.5,796.2 1344.5,800.7 1352.5,817.3 1360.5,844.7 1368.5,841.9 1376.5,846.2 1384.5,836.6"/>
<g font-family="Liberation Sans, sans-serif" font-size="10" fill="#000">
<text x="7.5" y="39" font-size="10.0" textLength="48.3" lengthAdjust="spacingAndGlyphs" stroke="#000" stroke-width="0.25">DJ30-,Daily</text><text x="62.3" y="39" font-size="10.0" textLength="140.7" lengthAdjust="spacingAndGlyphs" stroke="#000" stroke-width="0.25">25205.0 25919.0 24550.0 25916.0</text>
<path d="M-1 39l2.2-2.800 2.200 2.800z" fill="#000" shape-rendering="auto"/>
<text x="-5.5" y="609" font-size="10.0" textLength="129.0" lengthAdjust="spacingAndGlyphs" stroke="#000" stroke-width="0.25">MACD(12,26,9) 424.22 682.46</text>
<text x="-3.5" y="767" font-size="10.0" textLength="67.0" lengthAdjust="spacingAndGlyphs" stroke="#000" stroke-width="0.25">RSI(14) 53.6690</text>
<rect x="-8" y="929" width="1" height="3"/><text x="-8.5" y="941" font-size="10.0" textLength="51.3" lengthAdjust="spacingAndGlyphs" stroke="#000" stroke-width="0.25">24 Nov 2019</text>
<rect x="56" y="929" width="1" height="3"/><text x="55.5" y="941" font-size="10.0" textLength="46.3" lengthAdjust="spacingAndGlyphs" stroke="#000" stroke-width="0.25">3 Dec 2019</text>
<rect x="120" y="929" width="1" height="3"/><text x="119.5" y="941" font-size="10.0" textLength="51.3" lengthAdjust="spacingAndGlyphs" stroke="#000" stroke-width="0.25">12 Dec 2019</text>
<rect x="184" y="929" width="1" height="3"/><text x="183.5" y="941" font-size="10.0" textLength="51.3" lengthAdjust="spacingAndGlyphs" stroke="#000" stroke-width="0.25">22 Dec 2019</text>
<rect x="248" y="929" width="1" height="3"/><text x="247.5" y="941" font-size="10.0" textLength="51.3" lengthAdjust="spacingAndGlyphs" stroke="#000" stroke-width="0.25">31 Dec 2019</text>
<rect x="312" y="929" width="1" height="3"/><text x="311.5" y="941" font-size="10.0" textLength="44.8" lengthAdjust="spacingAndGlyphs" stroke="#000" stroke-width="0.25">9 Jan 2020</text>
<rect x="376" y="929" width="1" height="3"/><text x="375.5" y="941" font-size="10.0" textLength="49.8" lengthAdjust="spacingAndGlyphs" stroke="#000" stroke-width="0.25">19 Jan 2020</text>
<rect x="440" y="929" width="1" height="3"/><text x="439.5" y="941" font-size="10.0" textLength="49.8" lengthAdjust="spacingAndGlyphs" stroke="#000" stroke-width="0.25">28 Jan 2020</text>
<rect x="504" y="929" width="1" height="3"/><text x="503.5" y="941" font-size="10.0" textLength="45.8" lengthAdjust="spacingAndGlyphs" stroke="#000" stroke-width="0.25">6 Feb 2020</text>
<rect x="568" y="929" width="1" height="3"/><text x="567.5" y="941" font-size="10.0" textLength="50.8" lengthAdjust="spacingAndGlyphs" stroke="#000" stroke-width="0.25">16 Feb 2020</text>
<rect x="632" y="929" width="1" height="3"/><text x="631.5" y="941" font-size="10.0" textLength="50.8" lengthAdjust="spacingAndGlyphs" stroke="#000" stroke-width="0.25">25 Feb 2020</text>
<rect x="696" y="929" width="1" height="3"/><text x="695.5" y="941" font-size="10.0" textLength="45.8" lengthAdjust="spacingAndGlyphs" stroke="#000" stroke-width="0.25">5 Mar 2020</text>
<rect x="760" y="929" width="1" height="3"/><text x="759.5" y="941" font-size="10.0" textLength="50.8" lengthAdjust="spacingAndGlyphs" stroke="#000" stroke-width="0.25">15 Mar 2020</text>
<rect x="824" y="929" width="1" height="3"/><text x="823.5" y="941" font-size="10.0" textLength="50.8" lengthAdjust="spacingAndGlyphs" stroke="#000" stroke-width="0.25">24 Mar 2020</text>
<rect x="888" y="929" width="1" height="3"/><text x="887.5" y="941" font-size="10.0" textLength="43.8" lengthAdjust="spacingAndGlyphs" stroke="#000" stroke-width="0.25">2 Apr 2020</text>
<rect x="952" y="929" width="1" height="3"/><text x="951.5" y="941" font-size="10.0" textLength="48.8" lengthAdjust="spacingAndGlyphs" stroke="#000" stroke-width="0.25">13 Apr 2020</text>
<rect x="1016" y="929" width="1" height="3"/><text x="1015.5" y="941" font-size="10.0" textLength="48.8" lengthAdjust="spacingAndGlyphs" stroke="#000" stroke-width="0.25">22 Apr 2020</text>
<rect x="1080" y="929" width="1" height="3"/><text x="1079.5" y="941" font-size="10.0" textLength="47.3" lengthAdjust="spacingAndGlyphs" stroke="#000" stroke-width="0.25">1 May 2020</text>
<rect x="1144" y="929" width="1" height="3"/><text x="1143.5" y="941" font-size="10.0" textLength="51.6" lengthAdjust="spacingAndGlyphs" stroke="#000" stroke-width="0.25">11 May 2020</text>
<rect x="1208" y="929" width="1" height="3"/><text x="1207.5" y="941" font-size="10.0" textLength="52.3" lengthAdjust="spacingAndGlyphs" stroke="#000" stroke-width="0.25">20 May 2020</text>
<rect x="1272" y="929" width="1" height="3"/><text x="1271.5" y="941" font-size="10.0" textLength="52.3" lengthAdjust="spacingAndGlyphs" stroke="#000" stroke-width="0.25">29 May 2020</text>
<rect x="1336" y="929" width="1" height="3"/><text x="1335.5" y="941" font-size="10.0" textLength="44.8" lengthAdjust="spacingAndGlyphs" stroke="#000" stroke-width="0.25">8 Jun 2020</text>
</g>
</svg><svg width="220" height="70" viewBox="0 44 220 70" style="position:absolute;left:0;top:44px" font-family="Liberation Sans, sans-serif">
<defs>
<linearGradient id="gt" x1="0" y1="0" x2="0" y2="1"><stop offset="0" stop-color="#5656fc"/><stop offset="1" stop-color="#3838de"/></linearGradient>
<linearGradient id="gb" x1="0" y1="0" x2="0" y2="1"><stop offset="0" stop-color="#3535dc"/><stop offset="0.55" stop-color="#1a1ac6"/><stop offset="1" stop-color="#0000a8"/></linearGradient>
<linearGradient id="gs" x1="0" y1="0" x2="0" y2="1"><stop offset="0" stop-color="#f4f4f4"/><stop offset="0.45" stop-color="#e9e9e9"/><stop offset="0.5" stop-color="#d8d8d8"/><stop offset="1" stop-color="#cfcfcf"/></linearGradient>
</defs>
<rect x="0" y="47" width="214" height="25" fill="#fff"/>
<rect x="104" y="71" width="2" height="40" fill="#fff"/>
<rect x="0" y="47" width="47" height="25" fill="url(#gt)"/>
<rect x="162" y="47" width="52" height="25" fill="url(#gt)"/>
<path d="M0 47.5H46.5V71" fill="none" stroke="#0a0ab4" stroke-width="1"/>
<path d="M162.5 71V47.5H213.5V71" fill="none" stroke="#0a0ab4" stroke-width="1"/>
<rect x="0" y="71" width="104" height="40" fill="url(#gb)"/>
<rect x="106" y="71" width="108" height="40" fill="url(#gb)"/>
<path d="M46 71.5H104M106 71.5H163" fill="none" stroke="#0a0ab4" stroke-width="1"/>
<rect x="0" y="70" width="43" height="1" fill="#1c1cb8"/><rect x="0" y="71" width="43" height="1" fill="#7272f4"/>
<rect x="166" y="70" width="44" height="1" fill="#1c1cb8"/><rect x="166" y="71" width="44" height="1" fill="#7272f4"/>
<rect x="49.5" y="47.5" width="110" height="21" fill="#fff" stroke="#a8a8a8" stroke-width="1"/>
<rect x="51" y="49" width="19" height="18" fill="url(#gs)"/><rect x="70" y="48" width="1" height="20" fill="#a8a8a8"/>
<rect x="140" y="49" width="19" height="18" fill="url(#gs)"/><rect x="139" y="48" width="1" height="20" fill="#a8a8a8"/>
<path d="M56.8 56.3h5.4l-2.7 3.2z" fill="#4458c8"/>
<path d="M145.8 59h5.4l-2.7-3.2z" fill="#4458c8"/>
<text x="7.6" y="62.8" font-size="12" fill="#fff" textLength="25.5" lengthAdjust="spacingAndGlyphs">SELL</text>
<text x="175.6" y="62.8" font-size="12" fill="#fff" textLength="23" lengthAdjust="spacingAndGlyphs">BUY</text>
<text x="111.5" y="61.8" font-size="12" fill="#111" textLength="22.8" lengthAdjust="spacingAndGlyphs">1.00</text>
<text x="11.5" y="101.6" font-size="12.6" font-weight="bold" fill="#fff" textLength="34.3" lengthAdjust="spacingAndGlyphs">25914</text>
<text x="121.4" y="101.6" font-size="12.6" font-weight="bold" fill="#fff" textLength="34.3" lengthAdjust="spacingAndGlyphs">25927</text>
<rect x="50.4" y="98" width="4.2" height="3.6" rx="1" fill="#fff"/><rect x="161.4" y="98" width="4.2" height="3.6" rx="1" fill="#fff"/>
<text x="57.6" y="101.6" font-size="33.2" fill="#fff" textLength="15" lengthAdjust="spacingAndGlyphs">5</text>
<text x="168.6" y="101.6" font-size="33.2" fill="#fff" textLength="15" lengthAdjust="spacingAndGlyphs">5</text>
</svg>
<svg width="1677" height="25" viewBox="0 0 1677 25" style="position:absolute;left:0;top:0" font-family="Liberation Sans, Noto Sans CJK SC, sans-serif">
<defs>
<pattern id="dots" width="2" height="2" patternUnits="userSpaceOnUse"><rect width="2" height="2" fill="#f0f0f0"/><rect width="1" height="1" fill="#fbfbfb"/><rect x="1" y="1" width="1" height="1" fill="#fbfbfb"/></pattern>
<linearGradient id="gold" x1="0" y1="0" x2="1" y2="1"><stop offset="0" stop-color="#ffe060"/><stop offset="0.5" stop-color="#e0a818"/><stop offset="1" stop-color="#8a5a08"/></linearGradient>
<linearGradient id="grn" x1="0" y1="0" x2="1" y2="1"><stop offset="0" stop-color="#7af07a"/><stop offset="1" stop-color="#10a010"/></linearGradient>
<radialGradient id="lens" cx="0.4" cy="0.35" r="0.7"><stop offset="0" stop-color="#ffffff"/><stop offset="1" stop-color="#b8dcff"/></radialGradient>
<linearGradient id="blu" x1="0" y1="0" x2="0" y2="1"><stop offset="0" stop-color="#4aa8ff"/><stop offset="1" stop-color="#1060d8"/></linearGradient>
</defs>
<rect x="267" y="0" width="23" height="21" fill="url(#dots)"/>
<rect x="418" y="0" width="24" height="21" fill="url(#dots)"/>
<rect x="446" y="0" width="24" height="21" fill="url(#dots)"/>
<rect x="606" y="0" width="24" height="21" fill="url(#dots)"/>
<rect x="1080" y="0" width="24" height="21" fill="url(#dots)"/>
<rect x="227" y="0" width="1" height="21" fill="#a0a0a0"/>
<rect x="265" y="0" width="1" height="21" fill="#a0a0a0"/>
<rect x="322" y="0" width="1" height="21" fill="#a0a0a0"/>
<rect x="412" y="0" width="1" height="21" fill="#a0a0a0"/>
<rect x="417" y="0" width="1" height="21" fill="#a0a0a0"/>
<rect x="445" y="0" width="1" height="21" fill="#a0a0a0"/>
<rect x="474" y="0" width="1" height="21" fill="#a0a0a0"/>
<rect x="595" y="0" width="1" height="21" fill="#a0a0a0"/>
<rect x="605" y="0" width="1" height="21" fill="#a0a0a0"/>
<rect x="662" y="0" width="1" height="21" fill="#a0a0a0"/>
<rect x="901" y="0" width="1" height="21" fill="#a0a0a0"/>
<rect x="1079" y="0" width="1" height="21" fill="#a0a0a0"/>
<rect x="1162" y="0" width="1" height="21" fill="#a0a0a0"/>
<rect x="228" y="0" width="1" height="21" fill="#ffffff"/>
<rect x="596" y="0" width="1" height="21" fill="#ffffff"/>
<rect x="902" y="0" width="1" height="21" fill="#ffffff"/>
<rect x="231" y="1" width="3" height="1" fill="#b4b4b4"/>
<rect x="231" y="3" width="3" height="1" fill="#b4b4b4"/>
<rect x="231" y="5" width="3" height="1" fill="#b4b4b4"/>
<rect x="231" y="7" width="3" height="1" fill="#b4b4b4"/>
<rect x="231" y="9" width="3" height="1" fill="#b4b4b4"/>
<rect x="231" y="11" width="3" height="1" fill="#b4b4b4"/>
<rect x="231" y="13" width="3" height="1" fill="#b4b4b4"/>
<rect x="231" y="15" width="3" height="1" fill="#b4b4b4"/>
<rect x="231" y="17" width="3" height="1" fill="#b4b4b4"/>
<rect x="231" y="19" width="3" height="1" fill="#b4b4b4"/>
<rect x="599" y="1" width="3" height="1" fill="#b4b4b4"/>
<rect x="599" y="3" width="3" height="1" fill="#b4b4b4"/>
<rect x="599" y="5" width="3" height="1" fill="#b4b4b4"/>
<rect x="599" y="7" width="3" height="1" fill="#b4b4b4"/>
<rect x="599" y="9" width="3" height="1" fill="#b4b4b4"/>
<rect x="599" y="11" width="3" height="1" fill="#b4b4b4"/>
<rect x="599" y="13" width="3" height="1" fill="#b4b4b4"/>
<rect x="599" y="15" width="3" height="1" fill="#b4b4b4"/>
<rect x="599" y="17" width="3" height="1" fill="#b4b4b4"/>
<rect x="599" y="19" width="3" height="1" fill="#b4b4b4"/>
<rect x="905" y="1" width="3" height="1" fill="#b4b4b4"/>
<rect x="905" y="3" width="3" height="1" fill="#b4b4b4"/>
<rect x="905" y="5" width="3" height="1" fill="#b4b4b4"/>
<rect x="905" y="7" width="3" height="1" fill="#b4b4b4"/>
<rect x="905" y="9" width="3" height="1" fill="#b4b4b4"/>
<rect x="905" y="11" width="3" height="1" fill="#b4b4b4"/>
<rect x="905" y="13" width="3" height="1" fill="#b4b4b4"/>
<rect x="905" y="15" width="3" height="1" fill="#b4b4b4"/>
<rect x="905" y="17" width="3" height="1" fill="#b4b4b4"/>
<rect x="905" y="19" width="3" height="1" fill="#b4b4b4"/>
<path d="M1.5 3.5h7.5l3 3v10h-10.5z" fill="#fff" stroke="#8a8a8a" stroke-width="1"/>
<path d="M9 3.5v3h3" fill="#e8e8e8" stroke="#8a8a8a" stroke-width="0.8"/>
<path d="M3.5 6h3M3.5 8.5h6M3.5 11h4" stroke="#909090" stroke-width="1" fill="none"/>
<path d="M9 10h4v3.5h3.5v4h-3.5v3.5h-4v-3.5h-3.500v-4h3.500z" fill="url(#grn)" stroke="#0a8a0a" stroke-width="0.8"/>
<text x="20" y="14.5" font-size="12" fill="#000">新订单</text>
<path d="M68 12.900l7.800 5.700 7.900-6.400v1.500l-7.900 6.200-7.800-5.500z" fill="#8a5c0c"/>
<path d="M73.700 4.300l10 7.900-7.900 6.400-7.800-5.700z" fill="url(#gold)" stroke="#b88a18" stroke-width="0.700"/>
<path d="M73.800 6l7.400 6-5.400 4.300-5.600-4.100z" fill="#fff2a0" opacity="0.450"/>
<path d="M98.500 4.300l4.300-1.300 6.700 1.500v9h-11z" fill="url(#blu)" stroke="#2a86e4" stroke-width="0.600"/>
<path d="M102.800 3l0 10.500" stroke="#8cd0ff" stroke-width="0.700"/>
<path d="M103.600 6.200h5v4.600h-5z" fill="#cfe8ff" opacity="0.850"/>
<path d="M98.300 18.600c-3 0-3.400-3.900-0.500-4.300 0.200-2.200 3.200-2.900 4.400-1.200 1.700-2.100 5.200-1.200 5.400 1.200 3.600-0.200 4 4.300 0.600 4.300z" fill="#eef2fa" stroke="#4a7cc8" stroke-width="0.900"/>
<circle cx="132" cy="10.700" r="7.300" fill="none" stroke="#9ab4e8" stroke-width="1.100"/>
<circle cx="132" cy="10.700" r="4.700" fill="none" stroke="#6a90e0" stroke-width="1.100"/>
<path d="M132 10.700V3.200A7.500 7.500 0 0 1 132 18.200z" fill="#7fc07f" opacity="0.75"/>
<path d="M132 10.700V18.600" stroke="#20a020" stroke-width="1.600"/>
<circle cx="132" cy="10.500" r="1.700" fill="#2a60e0"/>
<path d="M152.500 9.500h13.800l-3.800 8.200-2.600 1.100-3.200-1.300z" fill="#ffd84a" stroke="#d8a820" stroke-width="0.600"/>
<ellipse cx="159" cy="8.800" rx="8" ry="2.400" fill="#4a9ee0" stroke="#3a80c0" stroke-width="0.500"/>
<path d="M154.500 8.300c0-7 9-7 9 0z" fill="#6cbcf2" stroke="#3a88c8" stroke-width="0.500"/>
<circle cx="163.300" cy="14.700" r="4.100" fill="#d82010"/><rect x="161.600" y="13" width="3.400" height="3.400" fill="#fff"/>
<text x="172.500" y="14.500" font-size="12" fill="#000" textLength="46.500" lengthAdjust="spacingAndGlyphs">自动交易</text>
<path d="M245.5 5V19M243.0 16.500H256.5" stroke="#606060" stroke-width="1.100" fill="none"/>
<path d="M243.5 7.200l2-2.700 2 2.700zM254.7 14.500l2.700 2-2.700 2z" fill="#606060"/>
<path d="M251.600 6.500V14.700M251.600 7.200h2.600M251.600 13.600h-2.400" stroke="#008000" stroke-width="1.200" fill="none"/>
<path d="M273.5 5V19M271.0 16.500H284.5" stroke="#606060" stroke-width="1.100" fill="none"/>
<path d="M271.5 7.200l2-2.700 2 2.700zM282.7 14.500l2.700 2-2.700 2z" fill="#606060"/>
<path d="M279.500 3.200V14.700" stroke="#008000" stroke-width="1.200"/><rect x="277.400" y="5.600" width="4.300" height="7.200" fill="#50e870" stroke="#008000" stroke-width="0.900"/>
<path d="M301.5 5V19M299.0 16.500H312.5" stroke="#606060" stroke-width="1.100" fill="none"/>
<path d="M299.5 7.200l2-2.700 2 2.700zM310.7 14.500l2.700 2-2.700 2z" fill="#606060"/>
<path d="M300.300 13.600c2.500-1.500 4-5.400 6-5.400s3.200 3 5.600 4" stroke="#208a20" stroke-width="1.200" fill="none"/>
<path d="M340.8 13l5.400 4.800" stroke="#b08010" stroke-width="3.200" stroke-linecap="round"/>
<path d="M340.8 13l5.400 4.800" stroke="#f0c830" stroke-width="1.800" stroke-linecap="round"/>
<circle cx="337" cy="8.900" r="5.300" fill="url(#lens)" stroke="#3c78c8" stroke-width="1.200"/>
<path d="M334 8.900h6" stroke="#4a88c0" stroke-width="1.800"/>
<path d="M337 5.900v6" stroke="#4a88c0" stroke-width="1.800"/>
<path d="M368.8 13l5.400 4.800" stroke="#b08010" stroke-width="3.200" stroke-linecap="round"/>
<path d="M368.8 13l5.400 4.800" stroke="#f0c830" stroke-width="1.800" stroke-linecap="round"/>
<circle cx="365" cy="8.900" r="5.300" fill="url(#lens)" stroke="#3c78c8" stroke-width="1.200"/>
<path d="M362 8.900h6" stroke="#4a88c0" stroke-width="1.800"/>
<rect x="387" y="3" width="8" height="8" fill="#3aa424"/><rect x="388.5" y="6" width="5" height="3.500" fill="#fff"/><rect x="388.2" y="4" width="1" height="1" fill="#fff"/>
<rect x="395" y="3" width="8" height="8" fill="#2458d8"/><rect x="396.5" y="6" width="5" height="3.500" fill="#fff"/><rect x="396.2" y="4" width="1" height="1" fill="#fff"/>
<rect x="387" y="11" width="8" height="8" fill="#2458d8"/><rect x="388.5" y="14" width="5" height="3.500" fill="#fff"/><rect x="388.2" y="12" width="1" height="1" fill="#fff"/>
<rect x="395" y="11" width="8" height="8" fill="#3aa424"/><rect x="396.5" y="14" width="5" height="3.500" fill="#fff"/><rect x="396.2" y="12" width="1" height="1" fill="#fff"/>
<path d="M425.5 5V19M423.0 16.500H436.5" stroke="#606060" stroke-width="1.100" fill="none"/>
<path d="M423.5 7.200l2-2.700 2 2.700zM434.7 14.500l2.700 2-2.700 2z" fill="#606060"/>
<path d="M430 7.200v6.600l4.300-3.300z" fill="#60e060" stroke="#10a010" stroke-width="1"/>
<path d="M453.5 5V19M451.0 16.500H464.5" stroke="#606060" stroke-width="1.100" fill="none"/>
<path d="M451.5 7.200l2-2.700 2 2.700zM462.7 14.500l2.700 2-2.700 2z" fill="#606060"/>
<path d="M459.500 5V14.800" stroke="#2080b0" stroke-width="1.200"/><path d="M464.800 10.600h-4" stroke="#d04000" stroke-width="1.200"/><path d="M460.200 10.600l3-2.300v4.600z" fill="#d04000"/>
<path d="M484.5 3.5h7.5l3 3v10h-10.5z" fill="#fff" stroke="#8a8a8a" stroke-width="1"/>
<path d="M492 3.5v3h3" fill="#e8e8e8" stroke="#8a8a8a" stroke-width="0.8"/>
<path d="M487 7c-1 0-1 1.500-1 2.500s-0.500 1-1 1c0.500 0 1 0.300 1 1v2" stroke="#707070" stroke-width="0.800" fill="none"/>
<path d="M492 9h4v3.500h3.500v4h-3.500v3.500h-4v-3.500h-3.500v-4h3.500z" fill="url(#grn)" stroke="#0a8a0a" stroke-width="0.800"/>
<path d="M505.7 10h5.400l-2.700 3.200z" fill="#000"/>
<path d="M544.7 10h5.400l-2.700 3.200z" fill="#000"/>
<path d="M583.8 10h5.400l-2.700 3.200z" fill="#000"/>
<path d="M889.7 10h5.400l-2.700 3.200z" fill="#000"/>
<circle cx="530.100" cy="10.900" r="6.900" fill="#fff" stroke="#1464d4" stroke-width="2.200"/>
<circle cx="530.100" cy="10.900" r="7.900" fill="none" stroke="#0a48a8" stroke-width="0.500"/>
<path d="M530.100 7v4.200h3" stroke="#303030" stroke-width="1.100" fill="none"/>
<path d="M530.100 5v1M530.100 15.800v1M524.300 10.900h1M534.900 10.900h1" stroke="#8090a0" stroke-width="0.800"/>
<rect x="561.500" y="4.500" width="15" height="13" fill="#fff" stroke="#3a78c8" stroke-width="1"/><rect x="561" y="4" width="16" height="2.500" fill="#4a90e0"/>
<path d="M562 12h14" stroke="#3a78c8" stroke-width="0.800"/>
<path d="M563.500 10l2-0.500 1.500-1.300 2.500 0.300 1.800-1 2 0.800 1.500-0.800" stroke="#a02010" stroke-width="1.100" fill="none"/>
<path d="M563.500 15.500l2-0.800 1.500 0.500 2.300-1.500 1.500 1 1.800-1.700 2 2" stroke="#209020" stroke-width="1.100" fill="none"/>
<path d="M612.900 4v11.100l2.800-2.200 2.900 5.200 1.400-0.900-2.500-5 3.700-0.600z" fill="#505050"/>
<path d="M638 11.500h15M645.500 4v15" stroke="#505050" stroke-width="1.100"/>
<path d="M679.500 5v13M702 11.500h12M729.800 17.700l12.400-11.500" stroke="#505050" stroke-width="1.200"/>
<path d="M755.700 12.400l12.400-8.100M757.600 17.700l12.400-8.200" stroke="#505050" stroke-width="1.100"/>
<path d="M757.500 15.500l1.500-4.500 1 4 2-6 1.200 4.500 2-6.500 1.200 4.500 1.600-6" stroke="#505050" stroke-width="0.900" fill="none"/>
<text x="766.800" y="19.600" font-size="6" font-weight="bold" fill="#404040">E</text>
<path d="M785 4.3h12.7" stroke="#505050" stroke-width="1" stroke-dasharray="1 1"/>
<path d="M785 7.6h12.7" stroke="#505050" stroke-width="1" stroke-dasharray="1 1"/>
<path d="M785 11.5h12.7" stroke="#505050" stroke-width="1" stroke-dasharray="1 1"/>
<path d="M785 15.3h9.5" stroke="#505050" stroke-width="1" stroke-dasharray="1 1"/>
<text x="794.600" y="19.600" font-size="6" font-weight="bold" fill="#404040">F</text>
<text x="815.300" y="15.700" font-size="12" font-weight="bold" fill="#585858" textLength="8.800" lengthAdjust="spacingAndGlyphs">A</text>
<rect x="842.500" y="5.300" width="11" height="12" fill="none" stroke="#505050" stroke-width="1" stroke-dasharray="1 1"/>
<path d="M844 8.300h7.600M847.800 8.300v7.400" stroke="#505050" stroke-width="1.600"/>
<path d="M872.600 4.800l3 3-3 2.500-3-2.500zM879.800 18.200l3-3-3-2.500-3 2.500z" fill="#505050"/><path d="M871.500 12.500l2.500 2.500 4.500-6" stroke="#505050" stroke-width="1.300" fill="none"/>
<text x="916.7" y="15" font-size="9.500" fill="#404040" textLength="12.5" lengthAdjust="spacingAndGlyphs">M1</text>
<text x="944.8" y="15" font-size="9.500" fill="#404040" textLength="12.3" lengthAdjust="spacingAndGlyphs">M5</text>
<text x="970.6" y="15" font-size="9.500" fill="#404040" textLength="17.1" lengthAdjust="spacingAndGlyphs">M15</text>
<text x="998.5" y="15" font-size="9.500" fill="#404040" textLength="17.5" lengthAdjust="spacingAndGlyphs">M30</text>
<text x="1029.4" y="15" font-size="9.500" fill="#404040" textLength="11.6" lengthAdjust="spacingAndGlyphs">H1</text>
<text x="1056.6" y="15" font-size="9.500" fill="#404040" textLength="12.4" lengthAdjust="spacingAndGlyphs">H4</text>
<text x="1085.3" y="15" font-size="9.500" fill="#404040" textLength="11.7" lengthAdjust="spacingAndGlyphs">D1</text>
<text x="1112.9" y="15" font-size="9.500" fill="#404040" textLength="14.1" lengthAdjust="spacingAndGlyphs">W1</text>
<text x="1139.6" y="15" font-size="9.500" fill="#404040" textLength="15" lengthAdjust="spacingAndGlyphs">MN</text>
<path d="M1630.300 10.600l-5.600 5" stroke="#2a5fd0" stroke-width="2.600" stroke-linecap="round"/><circle cx="1632.600" cy="8.200" r="3.700" fill="#f4f4ff" stroke="#2a5fd0" stroke-width="1.400"/>
<path d="M1669 11.300l2 3-4-2.700" fill="#fafafa" stroke="#909090" stroke-width="0.800"/>
<ellipse cx="1665" cy="7.500" rx="6.300" ry="4.400" fill="#f4f4f6" stroke="#909090" stroke-width="0.900"/>
<ellipse cx="1656.500" cy="12" rx="4.800" ry="3.700" fill="#ececf0" stroke="#909090" stroke-width="0.900"/>
<path d="M1654.500 15l-1 2.600 3.200-2.200" fill="#ececf0" stroke="#909090" stroke-width="0.800"/>
</svg></body></html>
